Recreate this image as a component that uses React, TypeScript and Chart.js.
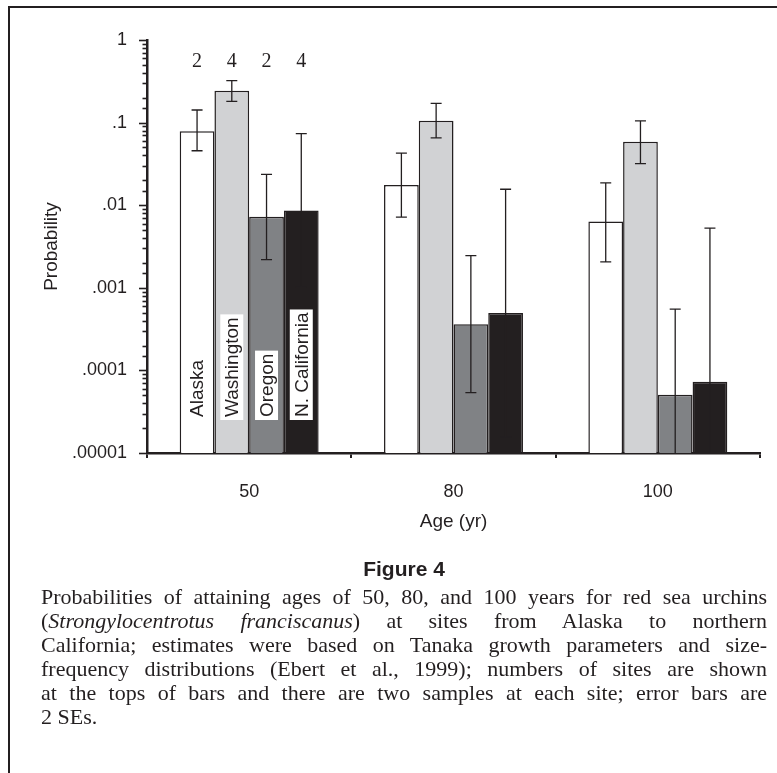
import React, { useEffect, useRef } from 'react';
import { Chart, registerables } from 'chart.js';

Chart.register(...registerables);

// ---- data ----
const ages = ['50', '80', '100'];
const sites = ['Alaska', 'Washington', 'Oregon', 'N. California'];
const siteCounts = [2, 4, 2, 4];

const alaska = [0.0786, 0.0176, 0.00636];
const alaskaLo = [0.0456, 0.00717, 0.00206];
const alaskaHi = [0.142, 0.0427, 0.0186];

const washington = [0.243, 0.105, 0.0585];
const washingtonLo = [0.181, 0.0654, 0.0318];
const washingtonHi = [0.323, 0.171, 0.105];

const oregon = [0.00723, 0.000361, 0.0000509];
const oregonLo = [0.00219, 0.0000537, 0.0000047];
const oregonHi = [0.0236, 0.00245, 0.000553];

const ncal = [0.00863, 0.000495, 0.0000731];
const ncalLo = [0.00101, 0.0000157, 0.00000101];
const ncalHi = [0.0737, 0.0156, 0.00528];

const yTickValues = [1, 0.1, 0.01, 0.001, 0.0001, 0.00001];
const yTickText = ['1', '.1', '.01', '.001', '.0001', '.00001'];

const captionLines = [
  'Probabilities of attaining ages of 50, 80, and 100 years for red sea urchins',
  '__ITALIC__ at sites from Alaska to northern',
  'California; estimates were based on Tanaka growth parameters and size-',
  'frequency distributions (Ebert et al., 1999); numbers of sites are shown',
  'at the tops of bars and there are two samples at each site; error bars are',
  '2 SEs.',
];

const INK = '#231f20';
const SANS = '"Liberation Sans", Arial, Helvetica, sans-serif';
const SERIF = '"Liberation Serif", "Times New Roman", serif';

const errLo = [alaskaLo, washingtonLo, oregonLo, ncalLo];
const errHi = [alaskaHi, washingtonHi, oregonHi, ncalHi];

const errorBarsPlugin = {
  id: 'errorBars',
  afterDatasetsDraw(chart: any) {
    const { ctx, chartArea } = chart;
    const y = chart.scales.y;
    ctx.save();
    ctx.beginPath();
    ctx.rect(chartArea.left, chartArea.top - 30, chartArea.right - chartArea.left, chartArea.bottom - chartArea.top + 30);
    ctx.clip();
    ctx.strokeStyle = INK;
    ctx.lineWidth = 1.3;
    chart.data.datasets.forEach((ds: any, i: number) => {
      const meta = chart.getDatasetMeta(i);
      meta.data.forEach((bar: any, j: number) => {
        const x = bar.x;
        const yHi = y.getPixelForValue(errHi[i][j]);
        const yLo = y.getPixelForValue(errLo[i][j]);
        ctx.beginPath();
        ctx.moveTo(x, yHi);
        ctx.lineTo(x, yLo);
        ctx.moveTo(x - 5.5, yHi);
        ctx.lineTo(x + 5.5, yHi);
        ctx.moveTo(x - 5.5, yLo);
        ctx.lineTo(x + 5.5, yLo);
        ctx.stroke();
      });
    });
    ctx.restore();
  },
};

const annotatePlugin = {
  id: 'annotate',
  afterDraw(chart: any) {
    const { ctx, chartArea } = chart;
    const yScale = chart.scales.y;
    ctx.save();
    // y axis ticks (major and minor)
    ctx.strokeStyle = INK;
    ctx.lineWidth = 1.6;
    yScale.ticks.forEach((t: any) => {
      const py = Math.round(yScale.getPixelForValue(t.value)) + 0.5;
      const major = yTickValues.some((v) => Math.abs(Math.log10(v) - Math.log10(t.value)) < 1e-6);
      ctx.beginPath();
      ctx.moveTo(chartArea.left, py);
      ctx.lineTo(chartArea.left - (major ? 8 : 4.5), py);
      ctx.stroke();
    });
    // site counts above first group
    ctx.fillStyle = INK;
    ctx.font = `20px ${SERIF}`;
    ctx.textAlign = 'center';
    ctx.textBaseline = 'middle';
    chart.data.datasets.forEach((ds: any, i: number) => {
      const bar = chart.getDatasetMeta(i).data[0];
      ctx.fillText(String(siteCounts[i]), bar.x, chartArea.top + 22);
    });
    // site names rotated inside first group
    ctx.font = `19px ${SANS}`;
    chart.data.datasets.forEach((ds: any, i: number) => {
      const bar = chart.getDatasetMeta(i).data[0];
      const label = sites[i];
      const w = ctx.measureText(label).width;
      const startY = chartArea.bottom - 36;
      ctx.save();
      ctx.translate(bar.x, startY);
      ctx.rotate(-Math.PI / 2);
      if (i > 0) {
        ctx.fillStyle = '#ffffff';
        ctx.fillRect(-3, -11.5, w + 6, 23);
      }
      ctx.fillStyle = INK;
      ctx.textAlign = 'left';
      ctx.textBaseline = 'middle';
      ctx.fillText(label, 0, 1);
      ctx.restore();
    });
    ctx.restore();
  },
};

function ChartView() {
  const ref = useRef<HTMLCanvasElement>(null);
  useEffect(() => {
    if (!ref.current) return;
    const chart = new Chart(ref.current, {
      type: 'bar',
      data: {
        labels: ages,
        datasets: [
          { label: sites[0], data: alaska, backgroundColor: '#ffffff', borderColor: INK, borderWidth: 1.5 },
          { label: sites[1], data: washington, backgroundColor: '#d1d2d4', borderColor: INK, borderWidth: 1.5 },
          { label: sites[2], data: oregon, backgroundColor: '#808285', borderColor: INK, borderWidth: 1.5 },
          { label: sites[3], data: ncal, backgroundColor: INK, borderColor: INK, borderWidth: 1.5 },
        ],
      },
      options: {
        responsive: false,
        animation: false,
        maintainAspectRatio: false,
        layout: { padding: { top: 40, right: 17, left: 0, bottom: 0 } },
        datasets: { bar: { categoryPercentage: 0.68, barPercentage: 1 } },
        plugins: { legend: { display: false }, tooltip: { enabled: false } },
        scales: {
          x: {
            grid: { display: true, drawOnChartArea: false, drawTicks: true, tickLength: 5, color: INK, lineWidth: 2, offset: true },
            border: { display: true, color: INK, width: 2.5 },
            ticks: { color: INK, font: { family: SANS, size: 18 }, padding: 23 },
            title: { display: true, text: 'Age (yr)', color: INK, font: { family: SANS, size: 19 }, padding: { top: 0, bottom: 27 } },
            afterFit: (s: any) => { s.height = 107; },
          },
          y: {
            type: 'logarithmic',
            min: 0.00001,
            max: 1,
            grid: { display: false },
            border: { display: true, color: INK, width: 2.5 },
            ticks: {
              autoSkip: false,
              color: INK,
              font: { family: SANS, size: 18 },
              padding: 12,
              callback: (value: any) => {
                const i = yTickValues.findIndex((v) => Math.abs(Math.log10(v) - Math.log10(Number(value))) < 1e-6);
                return i >= 0 ? yTickText[i] : '';
              },
            },
            title: { display: true, text: 'Probability', color: INK, font: { family: SANS, size: 19 }, padding: { top: 40, bottom: 0 } },
            afterFit: (s: any) => { s.width = 147; },
          },
        },
      },
      plugins: [errorBarsPlugin, annotatePlugin],
    } as any);
    return () => chart.destroy();
  }, []);
  return (
    <canvas
      ref={ref}
      width={777}
      height={560}
      style={{ position: 'absolute', left: 0, top: 0, width: 777, height: 560 }}
    />
  );
}

export default function App() {
  return (
    <div>
      <div
        style={{
          position: 'absolute', left: 8, top: 6, width: 769, height: 767,
          borderTop: `2px solid ${INK}`, borderLeft: `2px solid ${INK}`, boxSizing: 'border-box',
        }}
      />
      <ChartView />
      <div
        style={{
          position: 'absolute', left: 41, top: 557, width: 726, textAlign: 'center',
          font: `bold 21px ${SANS}`, lineHeight: '24px', color: INK,
        }}
      >
        Figure 4
      </div>
      <div
        style={{
          position: 'absolute', left: 41, top: 585, width: 726,
          font: `22px ${SERIF}`, lineHeight: '24px', color: INK,
        }}
      >
        {captionLines.map((line, k) => (
          <div
            key={k}
            style={{
              textAlign: 'justify',
              textAlignLast: k === captionLines.length - 1 ? 'left' : 'justify',
              whiteSpace: 'nowrap',
            } as any}
          >
            {line === '__ITALIC__ at sites from Alaska to northern' ? (
              <>
                (<i>Strongylocentrotus franciscanus</i>) at sites from Alaska to northern
              </>
            ) : (
              line
            )}
          </div>
        ))}
      </div>
    </div>
  );
}
